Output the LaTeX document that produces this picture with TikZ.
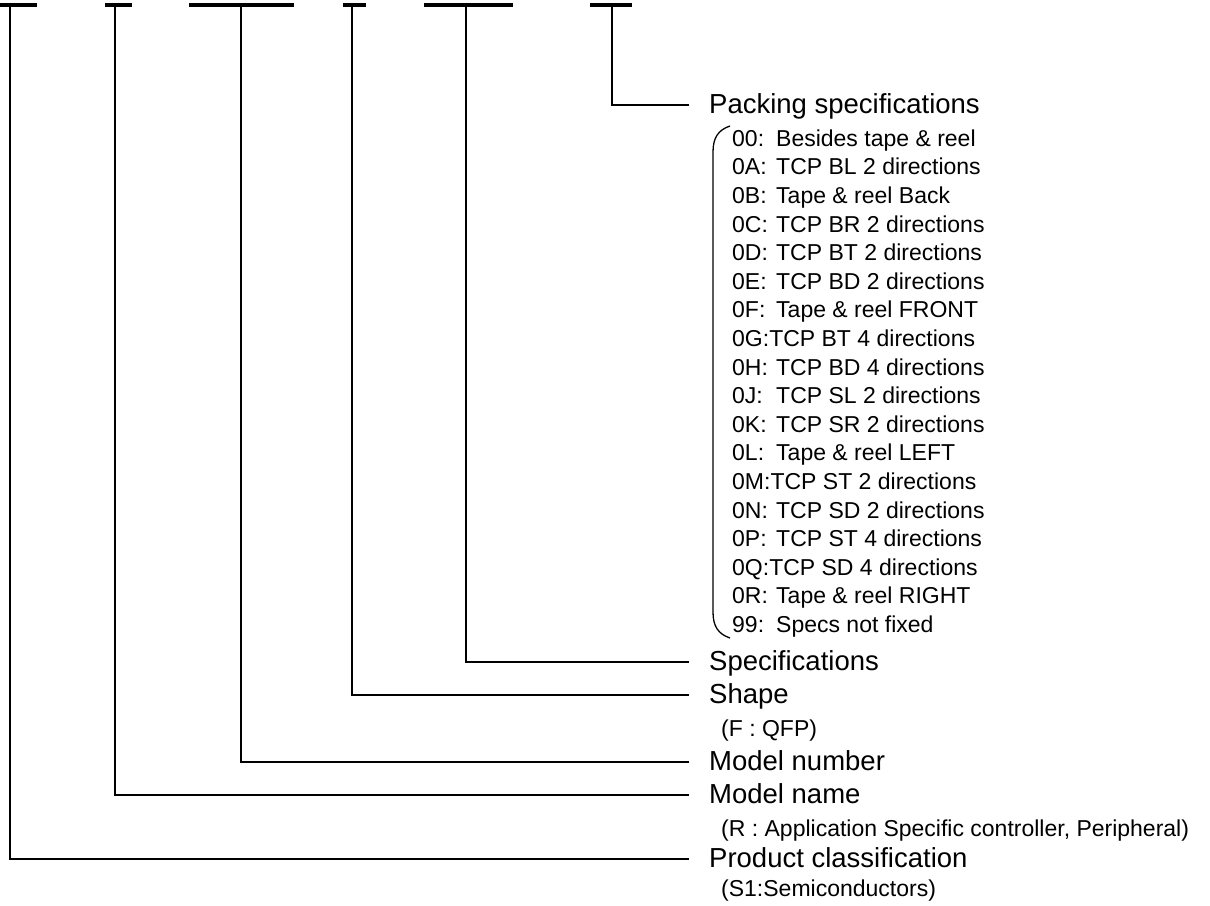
\documentclass[tikz,border=0pt]{standalone}
\usepackage{fontspec}
\setmainfont{Liberation Sans}
\begin{document}
\begin{tikzpicture}[x=1pt,y=-1pt,
  bar/.style={line width=4pt},
  conn/.style={line width=1.5pt},
  big/.style={anchor=base west, inner sep=0pt, font=\fontsize{27.5}{30}\selectfont},
  small/.style={anchor=base west, inner sep=0pt, font=\fontsize{23}{26}\selectfont}]
\useasboundingbox (0,0) rectangle (1210,905);
% top bars
\draw[bar] (0,5) -- (37,5);
\draw[bar] (105,5) -- (132,5);
\draw[bar] (189,5) -- (294,5);
\draw[bar] (343,5) -- (366,5);
\draw[bar] (424,5) -- (513,5);
\draw[bar] (590,5) -- (632,5);
% tops of connectors
\coordinate (t1) at (10,5);
\coordinate (t2) at (115,5);
\coordinate (t3) at (241,5);
\coordinate (t4) at (352,5);
\coordinate (t5) at (466,5);
\coordinate (t6) at (612,5);
% ends of connectors
\coordinate (e6) at (689,105);
\coordinate (e5) at (689,662);
\coordinate (e4) at (689,695);
\coordinate (e3) at (689,762);
\coordinate (e2) at (689,795);
\coordinate (e1) at (689,859);
\draw[conn] (t1) |- (e1);
\draw[conn] (t2) |- (e2);
\draw[conn] (t3) |- (e3);
\draw[conn] (t4) |- (e4);
\draw[conn] (t5) |- (e5);
\draw[conn] (t6) |- (e6);
% labels
\node[big] (l6) at (709,113) {Packing specifications};
\node[big] (l5) at (709,670) {Specifications};
\node[big] (l4) at (709,703) {Shape};
\node[small] (s4) at (721,736) {(F : QFP)};
\node[big] (l3) at (709,770) {Model number};
\node[big] (l2) at (709,803) {Model name};
\node[small] (s2) at (721,836) {(R : Application Specific controller, Peripheral)};
\node[big] (l1) at (709,867) {Product classification};
\node[small] (s1) at (721,896) {(S1:Semiconductors)};
% packing list (t = 1: tab-aligned description, t = 0: description follows directly)
\foreach \c/\d/\t [count=\i from 0] in {
  00:/Besides tape \& reel/1,
  0A:/TCP BL 2 directions/1,
  0B:/Tape \& reel Back/1,
  0C:/TCP BR 2 directions/1,
  0D:/TCP BT 2 directions/1,
  0E:/TCP BD 2 directions/1,
  0F:/Tape \& reel FRONT/1,
  0G:/TCP BT 4 directions/0,
  0H:/TCP BD 4 directions/1,
  0J:/TCP SL 2 directions/1,
  0K:/TCP SR 2 directions/1,
  0L:/Tape \& reel LEFT/1,
  0M:/TCP ST 2 directions/0,
  0N:/TCP SD 2 directions/1,
  0P:/TCP ST 4 directions/1,
  0Q:/TCP SD 4 directions/0,
  0R:/Tape \& reel RIGHT/1,
  99:/Specs not fixed/1}
  \node[small] (item\i) at (732,{138+28.6*\i+8.2})
    {\ifnum\t=1 \makebox[44pt][l]{\c}\else\c\fi\d};
% brace
\draw[line width=1.3pt] (730,126) .. controls (718,130) and (713,138) .. (713,152)
  -- (713,612) .. controls (713,626) and (718,634) .. (730,638);
\end{tikzpicture}
\end{document}
